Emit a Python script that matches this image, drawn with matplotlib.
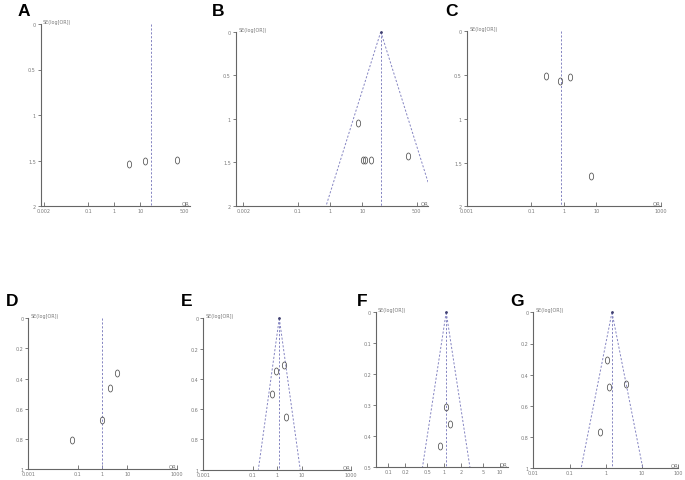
import numpy as np
import matplotlib
matplotlib.use("Agg")
import matplotlib.pyplot as plt
from matplotlib.path import Path
from matplotlib.ticker import FixedLocator, FixedFormatter, NullLocator

W, H = 685, 481

# ---------------- data ----------------
A_or = [3.5, 15, 250]
A_se = [1.54, 1.50, 1.49]
A_pooled = 25

B_or = [7.2, 10.5, 12.3, 19, 263]
B_se = [1.05, 1.48, 1.48, 1.47, 1.43]
B_pooled = 38

C_or = [0.29, 0.74, 1.51, 7.1]
C_se = [0.51, 0.57, 0.52, 1.65]
C_pooled = 0.81

D_or = [3.8, 2.04, 0.95, 0.06]
D_se = [0.365, 0.46, 0.675, 0.81]
D_pooled = 0.93

E_or = [1.86, 0.93, 0.62, 2.24]
E_se = [0.306, 0.346, 0.50, 0.65]
E_pooled = 1.22

F_or = [1.09, 1.28, 0.83]
F_se = [0.306, 0.36, 0.43]
F_pooled = 1.09

G_or = [1.07, 1.26, 3.55, 0.68]
G_se = [0.306, 0.48, 0.46, 0.77]
G_pooled = 1.48

AB_xticks = [0.002, 0.1, 1, 10, 500]
AB_xlabels = ["0.002", "0.1", "1", "10", "500"]
CDE_xticks = [0.001, 0.1, 1, 10, 1000]
CDE_xlabels = ["0.001", "0.1", "1", "10", "1000"]
F_xticks = [0.1, 0.2, 0.5, 1, 2, 5, 10]
F_xlabels = ["0.1", "0.2", "0.5", "1", "2", "5", "10"]
G_xticks = [0.01, 0.1, 1, 10, 100]
G_xlabels = ["0.01", "0.1", "1", "10", "100"]

Y2_ticks = [0, 0.5, 1, 1.5, 2]
Y2_labels = ["0", "0.5", "1", "1.5", "2"]
Y1_ticks = [0, 0.2, 0.4, 0.6, 0.8, 1]
Y1_labels = ["0", "0.2", "0.4", "0.6", "0.8", "1"]
Y05_ticks = [0, 0.1, 0.2, 0.3, 0.4, 0.5]
Y05_labels = ["0", "0.1", "0.2", "0.3", "0.4", "0.5"]

# ---------------- styling ----------------
AXCOL = "#666666"
LINECOL = "#8585c2"
MKCOL = "#4f4f4f"
TXTCOL = "#7a7a7a"
TICKFS = 3.5
DASH = (0, (2.2, 1.8))

t = np.linspace(0, 2 * np.pi, 60)
ellipse = Path(np.column_stack([0.62 * np.cos(t), np.sin(t)]), closed=True)

fig = plt.figure(figsize=(W / 100, H / 100), dpi=100)
fig.patch.set_facecolor("white")


def make_ax(left, top, right, bottom):
    return fig.add_axes([left / W, 1 - bottom / H, (right - left) / W, (bottom - top) / H])


def panel(box, letter, letter_xy, ors, ses, pooled, xlim, xticks, xlabels,
          ymax, yticks, ylabels, funnel, ylab="SE(log[OR])"):
    ax = make_ax(*box)
    ax.set_xscale("log")
    ax.set_xlim(*xlim)
    ax.set_ylim(ymax, 0)
    for s in ["top", "right"]:
        ax.spines[s].set_visible(False)
    for s in ["left", "bottom"]:
        ax.spines[s].set_color(AXCOL)
        ax.spines[s].set_linewidth(0.8)
    ax.patch.set_alpha(0)
    ax.xaxis.set_major_locator(FixedLocator(xticks))
    ax.xaxis.set_major_formatter(FixedFormatter(xlabels))
    ax.xaxis.set_minor_locator(NullLocator())
    ax.set_yticks(yticks)
    ax.set_yticklabels(ylabels)
    ax.tick_params(axis="x", direction="in", length=3, width=0.6, colors=AXCOL,
                   labelsize=TICKFS, pad=1.5, labelcolor=TXTCOL)
    ax.tick_params(axis="y", direction="out", length=2, width=0.6, colors=AXCOL,
                   labelsize=TICKFS, pad=1.5, labelcolor=TXTCOL)
    # pooled estimate line
    ax.plot([pooled, pooled], [0, ymax], ls=DASH, lw=0.7, color=LINECOL)
    if funnel:
        se = np.array([0, ymax])
        ax.plot(pooled * np.exp(-1.96 * se), se, ls=DASH, lw=0.7, color=LINECOL)
        ax.plot(pooled * np.exp(1.96 * se), se, ls=DASH, lw=0.7, color=LINECOL)
        ax.plot([pooled], [0], marker="o", ms=1.0, color="#404070", clip_on=False)
    ax.plot(ors, ses, ls="none", marker=ellipse, ms=5, mfc="none", mec=MKCOL, mew=0.55,
            clip_on=False)
    ax.text(0.015, 1.0, ylab, transform=ax.transAxes, fontsize=TICKFS, color=TXTCOL,
            ha="left", va="bottom")
    ax.text(1.0, 0.0, "OR", transform=ax.transAxes, fontsize=TICKFS + 0.4, color=TXTCOL,
            ha="right", va="bottom")
    fig.text(letter_xy[0] / W, 1 - letter_xy[1] / H, letter, fontsize=12.5,
             fontweight="bold", family="Liberation Sans", ha="left", va="top")
    return ax


panel((40.7, 25, 190, 207), "A", (18, 4), A_or, A_se, A_pooled,
      (10 ** -2.83, 10 ** 2.9), AB_xticks, AB_xlabels, 2, Y2_ticks, Y2_labels, False)
panel((235.7, 32.7, 428.3, 206.7), "B", (212, 4), B_or, B_se, B_pooled,
      (10 ** -2.94, 10 ** 3.06), AB_xticks, AB_xlabels, 2, Y2_ticks, Y2_labels, True)
panel((466.7, 32.3, 661, 207.3), "C", (445, 4), C_or, C_se, C_pooled,
      (1e-3, 1e3), CDE_xticks, CDE_xlabels, 2, Y2_ticks, Y2_labels, False)
panel((28.3, 319.3, 176.7, 470), "D", (6, 294), D_or, D_se, D_pooled,
      (1e-3, 1e3), CDE_xticks, CDE_xlabels, 1, Y1_ticks, Y1_labels, False)
panel((203.3, 319.3, 351, 470.7), "E", (181, 294), E_or, E_se, E_pooled,
      (1e-3, 1e3), CDE_xticks, CDE_xlabels, 1, Y1_ticks, Y1_labels, True)
panel((376, 313.3, 508, 468.3), "F", (357, 294), F_or, F_se, F_pooled,
      (0.06, 14), F_xticks, F_xlabels, 0.5, Y05_ticks, Y05_labels, True)
panel((533.3, 313.3, 678.3, 469.3), "G", (510, 294), G_or, G_se, G_pooled,
      (0.01, 100), G_xticks, G_xlabels, 1, Y1_ticks, Y1_labels, True)

fig.savefig("out.png", dpi=100, facecolor="white")
